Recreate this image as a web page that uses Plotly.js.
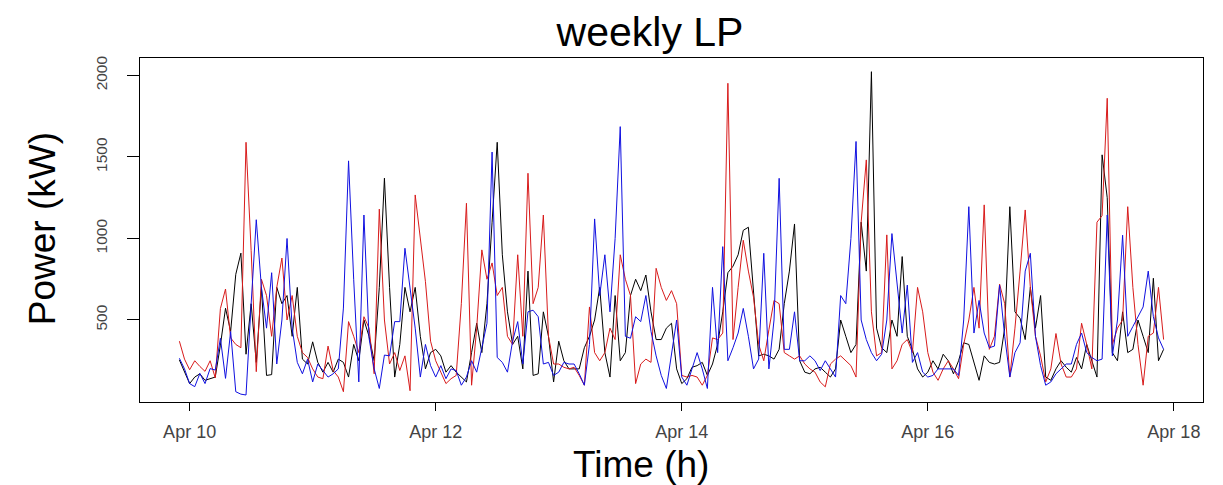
<!DOCTYPE html>
<html>
<head>
<meta charset="utf-8">
<script src="https://cdn.plot.ly/plotly-3.0.1.min.js"></script>
<style>
  html, body { margin: 0; padding: 0; background: #ffffff; }
  #chart { width: 1223px; height: 485px; }
</style>
</head>
<body>
<div id="chart"></div>
<script>
// Hourly load profiles (kW), one week, starting Apr 9 22:00
const seriesBlack = [
  255,180,110,150,170,130,140,150,346,572,430,780,910,290,600,240,700,
  160,165,700,600,650,400,700,260,230,366,240,180,240,180,260,240,150,
  350,250,500,400,250,700,1370,700,150,350,700,550,700,400,200,300,320,280,
  180,220,180,150,120,300,480,300,600,1100,1590,900,550,350,400,200,800,160,
  170,550,400,120,370,250,200,200,200,330,400,500,700,300,150,650,250,300,
  650,750,680,776,550,380,380,450,480,200,110,140,210,220,240,160,230,
  350,550,790,830,900,1050,1069,700,280,290,280,260,320,600,800,1089,250,180,
  170,200,210,180,150,200,500,400,300,350,1100,800,2023,450,330,300,500,400,
  889,400,320,200,150,180,250,200,290,250,170,250,360,350,240,130,280,
  240,230,240,450,1195,550,510,380,700,450,650,150,130,200,250,210,180,
  270,200,350,250,150,1513,1250,300,250,550,300,320,500,400,300,756,250,320
];

const seriesRed = [
  370,260,195,250,215,185,250,145,570,690,390,350,330,1590,925,183,750,
  650,400,700,880,500,650,400,300,270,200,150,140,340,190,150,60,490,
  400,300,520,450,170,1180,500,230,300,190,280,66,1267,1000,735,370,250,180,
  110,140,160,600,1216,100,450,930,750,850,650,700,400,350,900,400,1400,600,
  700,1144,400,230,230,210,200,210,160,100,580,300,250,300,450,380,900,750,
  650,110,230,260,240,817,700,620,680,600,160,150,160,150,100,160,390,
  380,420,1952,380,700,989,800,640,350,250,440,620,600,300,280,260,280,230,
  200,180,120,90,230,260,280,250,220,150,1100,1482,550,280,300,1022,200,250,
  350,380,300,700,550,300,180,130,200,250,200,140,350,500,700,450,1206,
  320,400,720,600,150,450,800,1175,700,400,280,120,200,417,230,150,150,
  200,480,350,200,1100,1140,1860,350,450,500,1195,700,350,100,400,420,700,380
];

const seriesBlue = [
  265,200,110,91,172,110,202,193,388,142,429,60,45,40,600,1115,700,
  450,790,230,500,1000,450,240,170,260,120,230,190,150,170,200,573,1476,
  750,120,1144,388,200,80,285,280,490,490,940,695,450,150,350,220,150,220,
  140,200,190,100,150,250,180,330,480,1530,270,240,180,370,490,230,550,560,
  520,230,240,160,180,240,230,230,170,100,350,1120,650,900,550,1000,1686,400,
  388,520,490,650,430,280,160,80,280,500,150,100,200,300,200,80,700,
  300,950,250,330,420,571,400,200,260,909,200,500,1369,320,320,550,250,250,
  280,250,190,250,200,150,650,600,1000,1595,500,380,300,250,290,500,1030,720,
  420,714,240,300,180,150,160,200,200,200,200,160,500,1195,420,620,420,
  330,340,714,400,150,300,360,800,909,400,220,100,120,170,200,230,230,
  350,420,300,270,250,260,1144,280,500,1020,400,460,520,580,800,520,390,320
];

const xTickDates = ['2019-04-10', '2019-04-12', '2019-04-14', '2019-04-16', '2019-04-18'];
const xTickLabels = ['Apr 10', 'Apr 12', 'Apr 14', 'Apr 16', 'Apr 18'];
const yTickValues = [500, 1000, 1500, 2000];

// hourly time stamps for the profile
function pad(n) { return (n < 10 ? '0' : '') + n; }
const hourStamps = seriesBlack.map(function (_, i) {
  const d = new Date(Date.UTC(2019, 3, 9, 22 + i));
  return d.getUTCFullYear() + '-' + pad(d.getUTCMonth() + 1) + '-' + pad(d.getUTCDate()) +
         ' ' + pad(d.getUTCHours()) + ':00';
});

function lineTrace(values, color) {
  return {
    type: 'scatter',
    mode: 'lines',
    x: hourStamps,
    y: values,
    line: { color: color, width: 1 },
    hoverinfo: 'x+y'
  };
}

const traces = [
  lineTrace(seriesBlack, '#000000'),
  lineTrace(seriesRed, '#d81b1b'),
  lineTrace(seriesBlue, '#1010e0')
];

const FONT = 'Liberation Sans, Arial, sans-serif';

const layout = {
  width: 1223,
  height: 485,
  paper_bgcolor: '#ffffff',
  plot_bgcolor: '#ffffff',
  showlegend: false,
  margin: { l: 140, r: 20, t: 58, b: 83 },
  title: {
    text: 'weekly LP',
    font: { family: FONT, size: 41, color: '#000000' },
    x: 0.5315, xref: 'container', xanchor: 'center',
    y: 0.935, yref: 'container', yanchor: 'middle'
  },
  xaxis: {
    type: 'date',
    range: ['2019-04-09 14:19', '2019-04-18 05:41'],
    tickmode: 'array',
    tickvals: xTickDates,
    ticktext: xTickLabels,
    tickfont: { family: FONT, size: 18, color: '#444444' },
    ticks: 'outside',
    ticklen: 8,
    tickcolor: '#000000',
    tickwidth: 1,
    ticklabelstandoff: 5,
    showgrid: false,
    zeroline: false,
    showline: true,
    linecolor: '#000000',
    linewidth: 1,
    mirror: true
  },
  yaxis: {
    range: [-3, 2107],
    tickmode: 'array',
    tickvals: yTickValues,
    ticktext: yTickValues.map(String),
    tickangle: -90,
    tickfont: { family: FONT, size: 15.5, color: '#444444' },
    ticks: 'outside',
    ticklen: 12,
    tickcolor: '#000000',
    tickwidth: 1,
    ticklabelstandoff: 14,
    showgrid: false,
    zeroline: false,
    showline: true,
    linecolor: '#000000',
    linewidth: 1,
    mirror: true
  },
  annotations: [
    {
      text: 'Time (h)',
      xref: 'paper', yref: 'paper',
      x: 0.4713, y: -0.183,
      xanchor: 'center', yanchor: 'middle',
      showarrow: false,
      font: { family: FONT, size: 37, color: '#000000' }
    },
    {
      text: 'Power (kW)',
      xref: 'paper', yref: 'paper',
      x: -0.0922, y: 0.505,
      xanchor: 'center', yanchor: 'middle',
      textangle: -90,
      showarrow: false,
      font: { family: FONT, size: 37, color: '#000000' }
    }
  ]
};

Plotly.newPlot('chart', traces, layout, { staticPlot: true, displayModeBar: false });
</script>
</body>
</html>
